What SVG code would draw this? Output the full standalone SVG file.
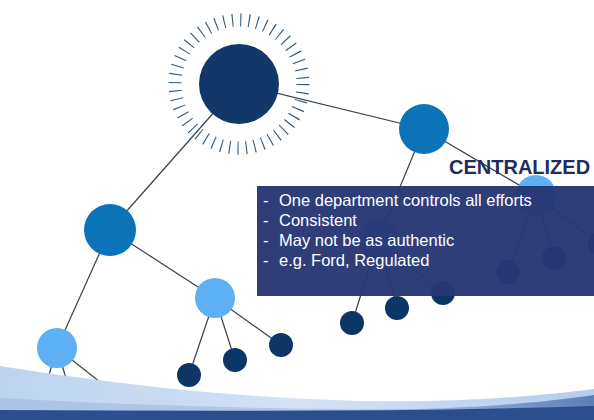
<svg xmlns="http://www.w3.org/2000/svg" width="594" height="420" viewBox="0 0 594 420">
<defs>
<style>
.ln{stroke:#34414f;stroke-width:1.2;fill:none}
.big{fill:#12386a}
.mid{fill:#0b74b8}
.lt{fill:#5cb0f3}
.dk{fill:#0d3566}
.txt{font-family:"Liberation Sans",Arial,sans-serif;font-size:16.5px;fill:#ffffff}
.ttl{font-family:"Liberation Sans",Arial,sans-serif;font-size:20px;font-weight:bold;fill:#1f2d5e}
</style>
<linearGradient id="wv" x1="0" y1="0" x2="1" y2="0">
<stop offset="0" stop-color="#bcd3f0"/>
<stop offset="0.5" stop-color="#d3e2f5"/>
<stop offset="1" stop-color="#b4ccee"/>
</linearGradient>
<linearGradient id="wv2" x1="0" y1="0" x2="1" y2="0">
<stop offset="0" stop-color="#a9c3e8"/>
<stop offset="0.6" stop-color="#b2cbec"/>
<stop offset="1" stop-color="#5b80b8"/>
</linearGradient>
</defs>
<rect width="594" height="420" fill="#ffffff"/>
<g id="connectors">
<line class="ln" x1="239" y1="84" x2="424" y2="129"/>
<line class="ln" x1="239" y1="84" x2="110" y2="230"/>
<line class="ln" x1="110" y1="230" x2="215" y2="298"/>
<line class="ln" x1="110" y1="230" x2="57" y2="348"/>
<line class="ln" x1="215" y1="298" x2="189" y2="375"/>
<line class="ln" x1="215" y1="298" x2="235" y2="360"/>
<line class="ln" x1="215" y1="298" x2="281" y2="345"/>
<line class="ln" x1="57" y1="348" x2="46" y2="385"/>
<line class="ln" x1="57" y1="348" x2="68" y2="385"/>
<line class="ln" x1="57" y1="348" x2="110" y2="390"/>
<line class="ln" x1="424" y1="129" x2="378" y2="240"/>
<line class="ln" x1="424" y1="129" x2="536" y2="195"/>
<line class="ln" x1="378" y1="240" x2="352" y2="323"/>
<line class="ln" x1="378" y1="240" x2="397" y2="308"/>
<line class="ln" x1="378" y1="240" x2="443" y2="293"/>
<line class="ln" x1="536" y1="195" x2="508" y2="272"/>
<line class="ln" x1="536" y1="195" x2="554" y2="258"/>
<line class="ln" x1="536" y1="195" x2="600" y2="245"/>
</g>
<g id="hub">
<circle cx="239" cy="84" r="64" fill="none" stroke="#2f5a78" stroke-width="13" stroke-dasharray="1.1 7.3"/>
<circle class="big" cx="239" cy="84" r="40"/>
</g>
<g id="n1"><circle class="mid" cx="424" cy="129" r="25"/></g>
<g id="n2"><circle class="mid" cx="110" cy="230" r="26"/></g>
<g id="n3"><circle class="lt" cx="215" cy="298" r="20"/></g>
<g id="n4"><circle class="lt" cx="57" cy="348" r="20"/></g>
<g id="n5"><circle class="dk" cx="189" cy="375" r="12"/></g>
<g id="n6"><circle class="dk" cx="235" cy="360" r="12"/></g>
<g id="n7"><circle class="dk" cx="281" cy="345" r="12"/></g>
<g id="n8"><circle class="lt" cx="378" cy="240" r="20"/></g>
<g id="n9"><circle class="dk" cx="352" cy="323" r="12"/></g>
<g id="n10"><circle class="dk" cx="397" cy="308" r="12"/></g>
<g id="n11"><circle class="dk" cx="443" cy="293" r="12"/></g>
<g id="n12"><circle class="lt" cx="536" cy="195" r="20"/></g>
<g id="n13"><circle class="dk" cx="508" cy="272" r="12"/></g>
<g id="n14"><circle class="dk" cx="554" cy="258" r="12"/></g>
<g id="n15"><circle class="dk" cx="600" cy="243" r="12"/></g>
<g id="wave">
<path d="M0,366 C120,385 240,398 360,401 C460,403 540,396 594,389 L594,420 L0,420 Z" fill="url(#wv)"/>
<path d="M0,398 C150,406 300,410 420,409 C500,407 560,400 594,395 L594,420 L0,420 Z" fill="url(#wv2)"/>
<path d="M0,410 C200,411 400,412 594,406 L594,420 L0,420 Z" fill="#2b4f8c"/>
</g>
<text class="ttl" x="449" y="174">CENTRALIZED</text>
<g id="box">
<rect x="257" y="186" width="337" height="110" fill="#283775" fill-opacity="0.97"/>
<text class="txt" x="263" y="206">-</text>
<text class="txt" x="279" y="206">One department controls all efforts</text>
<text class="txt" x="263" y="226">-</text>
<text class="txt" x="279" y="226">Consistent</text>
<text class="txt" x="263" y="246">-</text>
<text class="txt" x="279" y="246">May not be as authentic</text>
<text class="txt" x="263" y="266">-</text>
<text class="txt" x="279" y="266">e.g. Ford, Regulated</text>
</g>
</svg>
